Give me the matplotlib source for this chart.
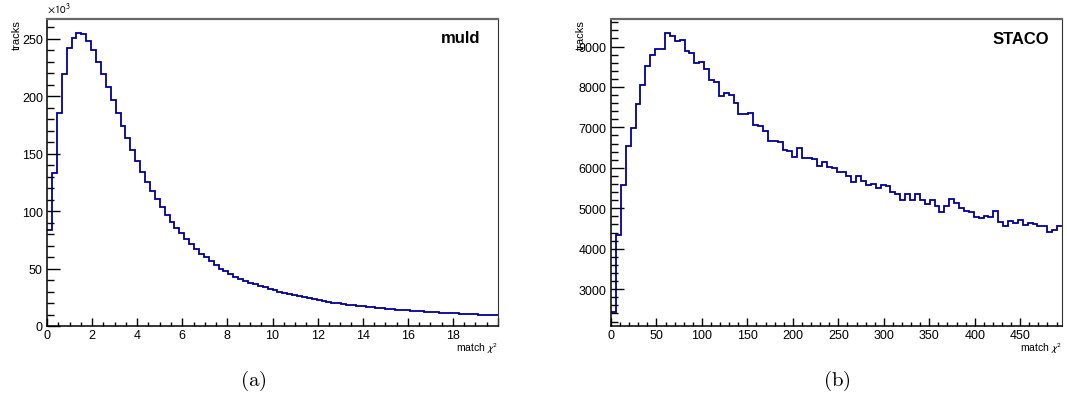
import numpy as np
import matplotlib.pyplot as plt
from matplotlib.ticker import MultipleLocator

# muld: match chi2 histogram, counts in units of 10^3
muld_counts = [83.7, 133.4, 184.9, 219.5, 241.6, 250.9, 255.2, 254.1, 248.3, 240.1,
               229.9, 219.5, 207.8, 196.8, 185.5, 174.1, 163.7, 153.5, 143.3, 134.3,
               125.3, 117.4, 110.2, 103.5, 96.8, 90.4, 85.2, 80.5, 75.3, 70.9,
               66.6, 62.8, 59.6, 56.1, 53.2, 50.0, 47.7, 45.1, 42.4, 40.7,
               39.2, 37.8, 36.4, 35.0, 33.7, 32.4, 31.2, 30.0, 28.9, 27.8,
               26.8, 25.8, 24.9, 24.0, 23.2, 22.4, 21.7, 21.0, 20.3, 19.7,
               19.1, 18.5, 18.0, 17.5, 17.0, 16.5, 16.1, 15.7, 15.3, 14.9,
               14.5, 14.2, 13.9, 13.6, 13.3, 13.0, 12.7, 12.4, 12.2, 11.9,
               11.7, 11.4, 11.2, 11.0, 10.8, 10.6, 10.4, 10.2, 10.0, 9.8,
               9.6, 9.4]
muld_range = (0, 20)

# STACO: match chi2 histogram
staco_counts = [2430, 4350, 5587, 6535, 6997, 7582, 8044, 8530, 8786, 8942,
                8950, 9322, 9256, 9148, 9157, 8901, 8835, 8604, 8629, 8439,
                8184, 8134, 7780, 7846, 7796, 7615, 7335, 7326, 7351, 7071,
                7030, 6922, 6675, 6667, 6642, 6436, 6428, 6271, 6486, 6255,
                6238, 6230, 6057, 6139, 6010, 6000, 5908, 5892, 5810, 5645,
                5793, 5686, 5587, 5604, 5505, 5587, 5546, 5397, 5356, 5208,
                5348, 5208, 5348, 5208, 5117, 5208, 5068, 4911, 5068, 5241,
                5125, 5010, 4944, 4919, 4796, 4771, 4820, 4796, 4944, 4672,
                4556, 4688, 4639, 4721, 4598, 4647, 4614, 4556, 4556, 4425,
                4474, 4556]
staco_range = (0, 496)

plt.rcParams['font.family'] = ['Liberation Sans', 'DejaVu Sans']

fig = plt.figure(figsize=(10.67, 4.10), dpi=100)
ax1 = fig.add_axes([47 / 1067, 83 / 410, 451 / 1067, 307 / 410])
ax2 = fig.add_axes([611 / 1067, 83 / 410, 451 / 1067, 307 / 410])

line_col = '#000099'


def style_axis(ax, xmaj, xmin, ymaj, ymin):
    ax.xaxis.set_major_locator(MultipleLocator(xmaj))
    ax.xaxis.set_minor_locator(MultipleLocator(xmin))
    ax.yaxis.set_major_locator(MultipleLocator(ymaj))
    ax.yaxis.set_minor_locator(MultipleLocator(ymin))
    ax.tick_params(axis='y', which='major', direction='in', length=9.5, width=1.0, pad=3, labelsize=9)
    ax.tick_params(axis='y', which='minor', direction='in', length=5, width=1.0)
    ax.tick_params(axis='x', which='major', direction='in', length=6, width=1.0, pad=2, labelsize=9)
    ax.tick_params(axis='x', which='minor', direction='in', length=3, width=1.0)
    ax.spines['top'].set_color('#666666')
    ax.spines['top'].set_linewidth(1.6)
    ax.spines['right'].set_color('#333333')
    ax.spines['left'].set_linewidth(1.1)
    ax.spines['bottom'].set_linewidth(1.1)
    ax.text(-0.068, 1.0, 'tracks', transform=ax.transAxes, rotation=90,
            ha='center', va='top', fontsize=8)
    ax.text(1.0, -0.045, r'match $\chi^2$', transform=ax.transAxes,
            ha='right', va='top', fontsize=7.5, math_fontfamily='stixsans')


# (a) muld
edges1 = np.linspace(muld_range[0], muld_range[1], len(muld_counts) + 1)
ax1.stairs(muld_counts, edges1, color=line_col, linewidth=1.3, baseline=None)
ax1.set_xlim(0, 20)
ax1.set_ylim(0, 267)
style_axis(ax1, 2, 0.5, 50, 10)
ax1.xaxis.set_major_formatter(lambda v, p: '' if v >= 20 else f'{v:g}')
ax1.text(0.0, 1.012, r'$\times10^{3}$', transform=ax1.transAxes, ha='left', va='bottom',
         fontsize=8, math_fontfamily='stixsans')
ax1.text(0.96, 0.965, 'muld', transform=ax1.transAxes, ha='right', va='top',
         fontsize=12, fontweight='bold')

# (b) STACO
edges2 = np.linspace(staco_range[0], staco_range[1], len(staco_counts) + 1)
ax2.stairs(staco_counts, edges2, color=line_col, linewidth=1.3, baseline=None)
ax2.set_xlim(0, 496)
ax2.set_ylim(2090, 9680)
style_axis(ax2, 50, 10, 1000, 200)
ax2.text(0.971, 0.96, 'STACO', transform=ax2.transAxes, ha='right', va='top',
         fontsize=12, fontweight='bold')

fig.text(253 / 1067, 0.072, r'$\mathrm{(a)}$', ha='center', va='center',
         fontsize=15, math_fontfamily='cm')
fig.text(837 / 1067, 0.072, r'$\mathrm{(b)}$', ha='center', va='center',
         fontsize=15, math_fontfamily='cm')

fig.savefig('out.png', dpi=100)
